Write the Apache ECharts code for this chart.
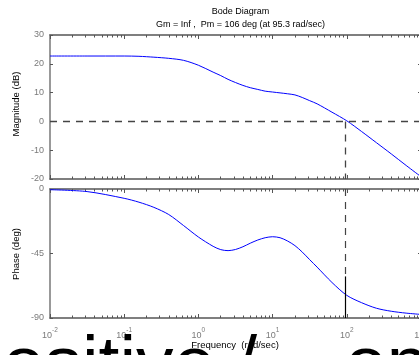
<!DOCTYPE html>
<html>
<head>
<meta charset="utf-8">
<script src="https://cdn.jsdelivr.net/npm/echarts@6/dist/echarts.min.js"></script>
<style>
  html, body { margin: 0; padding: 0; background: #fff; }
  #chart { width: 419px; height: 355px; }
</style>
</head>
<body>
<div id="chart"></div>
<script>
// frequencies (rad/sec)
var freqs = [0.01, 0.0316, 0.1, 0.158, 0.251, 0.398, 0.631, 1, 1.58, 2.0, 2.51, 3.16, 3.98, 5.01, 6.31, 7.94,
  10, 12.6, 15.8, 20.0, 25.1, 31.6, 39.8, 63.1, 100, 158, 251, 398, 631, 1000];
// magnitude (dB)
var magDb = [22.7, 22.7, 22.7, 22.6, 22.3, 21.9, 21.2, 19.5, 17.1, 15.9, 14.6, 13.5, 12.5, 11.7, 11.1, 10.5,
  10.2, 9.9, 9.6, 9.2, 8.3, 7.2, 6.1, 3.2, 0.2, -3.5, -7.4, -11.3, -15.3, -19.2];
// phase (deg)
var phaseDeg = [-0.5, -1.8, -6.5, -9.2, -12.8, -17.8, -25.5, -33.5, -40.0, -42.3, -43.0, -42.2, -40.3, -37.8, -35.6, -34.0,
  -33.3, -34.0, -36.2, -39.5, -44.0, -49.3, -54.5, -65.2, -74.2, -79.3, -83.2, -85.3, -86.6, -87.5];
// decade exponents for x tick labels
var decades = [-2, -1, 0, 1, 2, 3];
var magTicks = [-20, -10, 0, 10, 20, 30];
var phaseTicks = [-90, -45, 0];
var wc = 95.3;          // gain crossover (rad/sec)
var pmSolidFrom = -61;  // where the phase-margin line turns solid

var myChart = echarts.init(document.getElementById('chart'));
var lw = Math.log10(wc);

var minor = [];
decades.forEach(function (d) {
  if (d === 3) return;
  for (var k = 2; k <= 9; k++) minor.push(d + Math.log10(k));
});

var axisCol = '#777';
var labCol = '#7a7a7a';
var font = 'Liberation Sans, Arial, sans-serif';

function xAx(grid, pos, ticks, len, labels) {
  return {
    type: 'value', gridIndex: grid, position: pos, min: -2, max: 3, interval: 1,
    axisLine: { show: true, onZero: false, lineStyle: { color: axisCol, width: 1.5 } },
    axisTick: { show: true, inside: true, length: len, customValues: ticks, lineStyle: { color: '#555' } },
    splitLine: { show: false },
    axisLabel: labels ? {
      show: true, customValues: decades, margin: 6,
      formatter: function (v) { return '{b|10}{e|' + Math.round(v) + '}'; },
      rich: {
        b: { fontSize: 9, color: labCol, fontFamily: font, padding: [7, 0, 0, 0] },
        e: { fontSize: 6.5, color: labCol, fontFamily: font, padding: [0, 0, 4, 0] }
      }
    } : { show: false }
  };
}

function yAx(grid, pos, min, max, step, labels) {
  return {
    type: 'value', gridIndex: grid, position: pos, min: min, max: max, interval: step,
    axisLine: { show: true, onZero: false, lineStyle: { color: axisCol, width: 1.5 } },
    axisTick: { show: true, inside: true, length: 3, lineStyle: { color: '#555' } },
    splitLine: { show: false },
    axisLabel: labels ? { show: true, color: labCol, fontSize: 9, fontFamily: font, margin: 6 } : { show: false }
  };
}

var option = {
  animation: false,
  backgroundColor: '#fff',
  title: [
    { text: 'Bode Diagram', left: 235.5, top: 2, textAlign: 'center',
      textStyle: { fontSize: 9, fontWeight: 'normal', color: '#000', fontFamily: font } },
    { text: 'Gm = Inf ,  Pm = 106 deg (at 95.3 rad/sec)', left: 235.5, top: 15, textAlign: 'center',
      textStyle: { fontSize: 9, fontWeight: 'normal', color: '#000', fontFamily: font } }
  ],
  grid: [
    { left: 50, top: 35, width: 371, height: 144, containLabel: false, outerBoundsMode: 'none' },
    { left: 50, top: 189, width: 371, height: 129, containLabel: false, outerBoundsMode: 'none' }
  ],
  xAxis: [
    xAx(0, 'bottom', decades, 4, false),
    xAx(0, 'top', decades, 4, false),
    xAx(0, 'bottom', minor, 2.5, false),
    xAx(0, 'top', minor, 2.5, false),
    xAx(1, 'bottom', decades, 4, true),
    xAx(1, 'top', decades, 4, false),
    xAx(1, 'bottom', minor, 2.5, false),
    xAx(1, 'top', minor, 2.5, false)
  ],
  yAxis: [
    yAx(0, 'left', magTicks[0], magTicks[magTicks.length - 1], 10, true),
    yAx(0, 'right', magTicks[0], magTicks[magTicks.length - 1], 10, false),
    yAx(1, 'left', phaseTicks[0], phaseTicks[phaseTicks.length - 1], 45, true),
    yAx(1, 'right', phaseTicks[0], phaseTicks[phaseTicks.length - 1], 45, false)
  ],
  graphic: [
    { type: 'text', x: 16, y: 104, rotation: Math.PI / 2,
      style: { text: 'Magnitude (dB)', fontSize: 9.5, fontFamily: font, fill: '#000', align: 'center', verticalAlign: 'middle' } },
    { type: 'text', x: 16, y: 254, rotation: Math.PI / 2,
      style: { text: 'Phase (deg)', fontSize: 9.5, fontFamily: font, fill: '#000', align: 'center', verticalAlign: 'middle' } },
    { type: 'text', x: 235, y: 345,
      style: { text: 'Frequency  (rad/sec)', fontSize: 9.5, fontFamily: font, fill: '#000', align: 'center', verticalAlign: 'middle' } },
    { type: 'text', x: -39, y: 330, z: 100,
      style: { text: 'positive /', fontSize: 75, fontFamily: font, fill: '#000', align: 'left', verticalAlign: 'top' } },
    { type: 'text', x: 345, y: 330, z: 100,
      style: { text: 'open', fontSize: 75, fontFamily: font, fill: '#000', align: 'left', verticalAlign: 'top' } }
  ],
  series: [
    {
      type: 'line', xAxisIndex: 0, yAxisIndex: 0, smooth: 0.3, symbol: 'none',
      lineStyle: { color: '#0000ff', width: 1 },
      data: freqs.map(function (f, i) { return [Math.log10(f), magDb[i]]; }),
      markLine: {
        silent: true, symbol: 'none', label: { show: false },
        lineStyle: { color: '#444', width: 1.3, type: [7, 6] },
        data: [
          { yAxis: 0 },
          [{ coord: [lw, 0] }, { coord: [lw, magTicks[0]] }]
        ]
      }
    },
    {
      type: 'line', xAxisIndex: 4, yAxisIndex: 2, smooth: 0.3, symbol: 'none',
      lineStyle: { color: '#0000ff', width: 1 },
      data: freqs.map(function (f, i) { return [Math.log10(f), phaseDeg[i]]; }),
      markLine: {
        silent: true, symbol: 'none', label: { show: false },
        data: [
          [{ coord: [lw, 0], lineStyle: { color: '#444', width: 1.2, type: [7, 6] } },
           { coord: [lw, pmSolidFrom] }],
          [{ coord: [lw, pmSolidFrom], lineStyle: { color: '#000', width: 1.2, type: 'solid' } },
           { coord: [lw, phaseTicks[0]] }]
        ]
      }
    }
  ]
};

myChart.setOption(option);
</script>
</body>
</html>
